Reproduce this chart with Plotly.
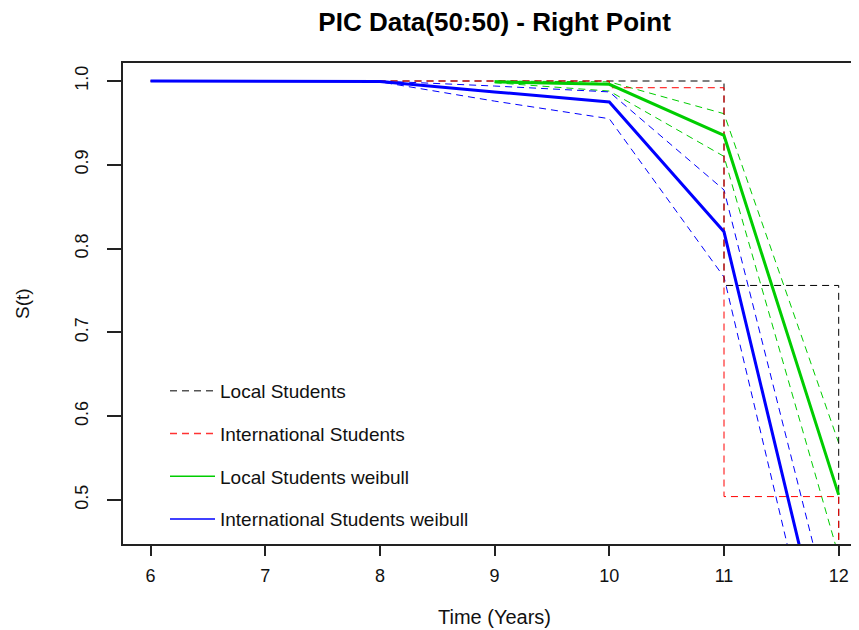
import plotly.graph_objects as go

# ---- data ----
# Kaplan-Meier style step curves (right point)
km_local_t = [6, 11, 12]
km_local_s = [1.0, 0.756, 0.0]
km_intl_t = [6, 10, 11, 12]
km_intl_s = [1.0, 0.992, 0.504, 0.0]

# Weibull fits with confidence bands
wb_local_t = [9, 10, 11, 12]
wb_local_s = [0.999, 0.996, 0.935, 0.506]
wb_local_up = [1.0, 0.999, 0.961, 0.568]
wb_local_lo = [0.998, 0.988, 0.910, 0.433]

wb_intl_t = [6, 7, 8, 9, 10, 11, 12]
wb_intl_s = [1.0, 1.0, 0.9995, 0.987, 0.975, 0.820, 0.25]
wb_intl_ci_t = [7, 8, 9, 10, 11, 12]
wb_intl_up = [1.0, 1.0, 0.994, 0.987, 0.870, 0.326]
wb_intl_lo = [1.0, 0.999, 0.976, 0.955, 0.766, 0.187]

x_ticks = [6, 7, 8, 9, 10, 11, 12]
y_ticks = [0.5, 0.6, 0.7, 0.8, 0.9, 1.0]

legend_names = ["Local Students", "International Students",
                "Local Students weibull", "International Students weibull"]

BLACK = "#000000"
RED = "#FF0000"
GREEN = "#00CD00"
BLUE = "#0000FF"
DASH = "7px,5px"
FONT = "Liberation Sans, Arial, sans-serif"

# page body has an 8px default margin; figure is sized to fit the window
OFF = 8
W, H = 859 - OFF, 630 - OFF

fig = go.Figure()

# CI lines (thin dashed)
fig.add_trace(go.Scatter(x=wb_local_t, y=wb_local_up, mode="lines",
                         line=dict(color=GREEN, width=1, dash=DASH), showlegend=False))
fig.add_trace(go.Scatter(x=wb_local_t, y=wb_local_lo, mode="lines",
                         line=dict(color=GREEN, width=1, dash=DASH), showlegend=False))
fig.add_trace(go.Scatter(x=wb_intl_ci_t, y=wb_intl_up, mode="lines",
                         line=dict(color=BLUE, width=1, dash=DASH), showlegend=False))
fig.add_trace(go.Scatter(x=wb_intl_ci_t, y=wb_intl_lo, mode="lines",
                         line=dict(color=BLUE, width=1, dash=DASH), showlegend=False))

# KM step curves
fig.add_trace(go.Scatter(x=km_local_t, y=km_local_s, mode="lines",
                         line=dict(color=BLACK, width=1, dash=DASH, shape="hv"), showlegend=False))
fig.add_trace(go.Scatter(x=km_intl_t, y=km_intl_s, mode="lines",
                         line=dict(color=RED, width=1, dash=DASH, shape="hv"), showlegend=False))

# Weibull solid fits
fig.add_trace(go.Scatter(x=wb_local_t, y=wb_local_s, mode="lines",
                         line=dict(color=GREEN, width=3), showlegend=False))
fig.add_trace(go.Scatter(x=wb_intl_t, y=wb_intl_s, mode="lines",
                         line=dict(color=BLUE, width=3), showlegend=False))

# Legend entries (thin lines, as in the reference legend)
leg_styles = [dict(color="#555555", width=1.5, dash="7px,5px"),
              dict(color="#FF3333", width=1.5, dash="7px,5px"),
              dict(color=GREEN, width=1.5),
              dict(color=BLUE, width=1.5)]
for i, (nm, st) in enumerate(zip(legend_names, leg_styles)):
    fig.add_trace(go.Scatter(x=[None], y=[None], mode="lines", name=nm, line=st,
                             legendgroup=f"g{i}", legendrank=i + 1, showlegend=True))

axis_common = dict(showgrid=False, zeroline=False, showline=True, linecolor="#222222",
                   linewidth=1.5, ticks="outside", tickcolor="#222222", tickwidth=1.5,
                   tickfont=dict(family=FONT, size=18, color="#111111"))

fig.update_xaxes(range=[5.76, 12.177], tickvals=x_ticks, ticktext=[str(v) for v in x_ticks],
                 mirror=True, ticklen=10, ticklabelstandoff=5, **axis_common)
fig.update_yaxes(range=[0.4474, 1.0215], tickvals=y_ticks, ticktext=[f"{v:.1f}" for v in y_ticks],
                 mirror=False, ticklen=14, tickangle=-90, ticklabelstandoff=12, **axis_common)

fig.update_layout(
    width=W, height=H,
    margin=dict(l=123 - OFF, r=0, t=63 - OFF, b=86),
    plot_bgcolor="white", paper_bgcolor="white",
    title=dict(text="<b>PIC Data(50:50) - Right Point</b>", x=(494.6 - OFF) / W, xref="container",
               xanchor="center", y=1 - (22 - OFF) / H, yref="container", yanchor="middle",
               font=dict(family=FONT, size=26, color="#000000")),
    legend=dict(x=(165 - 123) / 736, xanchor="left", y=(544 - 372) / 481, yanchor="top",
                bgcolor="rgba(0,0,0,0)", borderwidth=0, tracegroupgap=15,
                traceorder="grouped",
                font=dict(family=FONT, size=19, color="#111111"), itemwidth=45),
    annotations=[
        dict(text="Time (Years)", x=(494.6 - 123) / 736, y=(544 - 617) / 481, xref="paper",
             yref="paper", showarrow=False, xanchor="center", yanchor="middle",
             font=dict(family=FONT, size=20, color="#111111")),
        dict(text="S(t)", x=(22 - 123) / 736, y=(544 - 304) / 481, xref="paper",
             yref="paper", showarrow=False, xanchor="center", yanchor="middle", textangle=-90,
             font=dict(family=FONT, size=19, color="#111111")),
    ],
)

fig.write_html("out.html")
